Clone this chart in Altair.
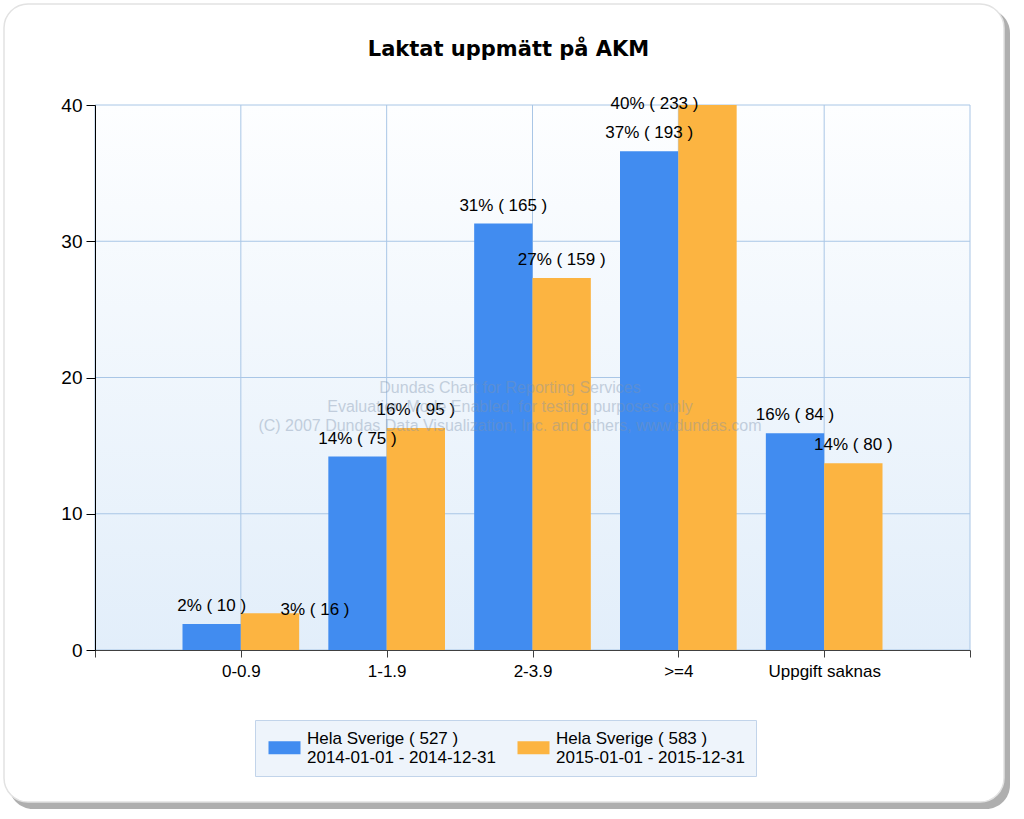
import altair as alt
import pandas as pd

title_text = "Laktat uppmätt på AKM"
categories = ["0-0.9", "1-1.9", "2-3.9", ">=4", "Uppgift saknas"]
series_names = [
    "Hela Sverige  ( 527 )\n2014-01-01 - 2014-12-31",
    "Hela Sverige  ( 583 )\n2015-01-01 - 2015-12-31",
]
pct_2014 = [1.9, 14.2, 31.3, 36.6, 15.9]
pct_2015 = [2.7, 16.3, 27.3, 40.0, 13.7]
n_2014 = [10, 75, 165, 193, 84]
n_2015 = [16, 95, 159, 233, 80]
y_ticks = [0, 10, 20, 30, 40]
x_ticks = [0, 1, 2, 3, 4, 5, 6]
watermark_lines = [
    "Dundas Chart for Reporting Services",
    "Evaluation Mode Enabled, for testing purposes only",
    "(C) 2007 Dundas Data Visualization, Inc. and others, www.dundas.com",
]
colors = ["#418CF0", "#FCB441"]

W, H = 875, 545

rows = []
for s, (pcts, ns) in enumerate([(pct_2014, n_2014), (pct_2015, n_2015)]):
    for i, cat in enumerate(categories):
        rows.append({
            "cat": cat, "idx": i + 1, "s": s, "series": series_names[s],
            "value": pcts[i], "n": ns[i],
            "label": f"{round(pcts[i])}% ( {ns[i]} )",
        })
df = pd.DataFrame(rows)

label_map = "[" + ",".join(["''"] + [repr(c) for c in categories] + ["''"]) + "]"

x_axis = alt.Axis(values=x_ticks, labelExpr=label_map + "[datum.value]", grid=False,
                  title=None, domainColor="#404040", tickColor="#404040", tickSize=7,
                  labelFontSize=17, labelColor="black", labelPadding=6, zindex=1,
                  labelFlush=False)
y_axis = alt.Axis(values=y_ticks, grid=False, title=None, domainColor="black",
                  tickColor="black", tickSize=9, labelFontSize=19, labelColor="black",
                  labelPadding=4, zindex=1)
xs = alt.Scale(domain=[0, 6], nice=False, zero=False)
ys = alt.Scale(domain=[0, 40], nice=False)

dummy = alt.Chart(pd.DataFrame({"a": [0]}))

shadow = dummy.mark_rect(color="#7a7a7a", opacity=0.6, cornerRadius=24).encode(
    x=alt.value(-86), x2=alt.value(915), y=alt.value(-96), y2=alt.value(704))
panel = dummy.mark_rect(color="white", stroke="#e2e2e2", strokeWidth=1.5, cornerRadius=24).encode(
    x=alt.value(-91), x2=alt.value(909), y=alt.value(-101), y2=alt.value(697))
plot_bg = dummy.mark_rect(
    fill=alt.Gradient(gradient="linear", x1=0, y1=0, x2=0, y2=1,
                      stops=[alt.GradientStop(color="#fdfeff", offset=0),
                             alt.GradientStop(color="#e2eefa", offset=1)])
).encode(x=alt.value(0), x2=alt.value(W), y=alt.value(0), y2=alt.value(H))

title_mark = dummy.mark_text(
    text=title_text, font="DejaVu Sans", fontWeight="bold", fontSize=21, color="black",
    align="center", baseline="middle"
).encode(x=alt.value(W / 2 - 24), y=alt.value(-55))

grid_y = alt.Chart(pd.DataFrame({"v": y_ticks})).mark_rule(color="#a9c6e6", strokeWidth=1).encode(
    y=alt.Y("v:Q", scale=ys, axis=y_axis), x=alt.value(0), x2=alt.value(W))
grid_x = alt.Chart(pd.DataFrame({"v": x_ticks})).mark_rule(color="#a9c6e6", strokeWidth=1).encode(
    x=alt.X("v:Q", scale=xs, axis=x_axis), y=alt.value(0), y2=alt.value(H))

base = alt.Chart(df).transform_calculate(
    x0="datum.idx - 0.4 + 0.4 * datum.s",
    x1="datum.idx + 0.4 * datum.s",
    xc="datum.idx - 0.2 + 0.4 * datum.s",
)

bars = base.mark_bar().encode(
    x=alt.X("x0:Q", scale=xs, axis=x_axis),
    x2="x1:Q",
    y=alt.Y("value:Q", scale=ys, axis=y_axis),
    y2=alt.datum(0),
    color=alt.Color("series:N", scale=alt.Scale(domain=series_names, range=colors),
                    legend=alt.Legend(
                        orient="none", legendX=160, legendY=615, direction="horizontal",
                        title=None, padding=10, fillColor="#eef4fb", strokeColor="#c2d4ea",
                        symbolType="M-0.625,0.31H3.375V1.94H-0.625Z", symbolSize=256,
                        symbolStrokeWidth=0, symbolOpacity=1, labelFontSize=17,
                        labelColor="black", labelOffset=25, columnPadding=17,
                        labelExpr="split(datum.label, '\\n')", labelLimit=400)),
)

def label_layer(filt, dx, dy):
    return base.transform_filter(filt).mark_text(
        fontSize=17, color="black", baseline="middle", align="center", dx=dx, dy=dy
    ).encode(
        x=alt.X("xc:Q", scale=xs, axis=x_axis),
        y=alt.Y("value:Q", scale=ys, axis=y_axis),
        text="label:N",
    )

special_a = "datum.s == 1 && datum.idx == 1"
special_b = "datum.s == 1 && datum.idx == 4"
labels_main = label_layer(f"!({special_a}) && !({special_b})", 0, -18)
labels_a = label_layer(special_a, 45, -3)
labels_b = label_layer(special_b, -53, -1)

wm = dummy.mark_text(
    text="\n".join(watermark_lines), lineBreak="\n", lineHeight=19,
    fontSize=16, color="#7f93ad", opacity=0.4, align="center", baseline="top"
).encode(x=alt.value(415), y=alt.value(275))

chart = alt.layer(
    shadow, panel, plot_bg, title_mark, grid_y, grid_x, bars,
    labels_main, labels_a, labels_b, wm
).properties(
    width=W, height=H,
    autosize=alt.AutoSizeParams(type="none"),
    padding={"left": 95, "top": 105, "right": 54, "bottom": 169},
).configure(font="Liberation Sans", background="white").configure_view(stroke=None)

chart.save("out.html", embed_options={"renderer": "svg", "actions": False})
